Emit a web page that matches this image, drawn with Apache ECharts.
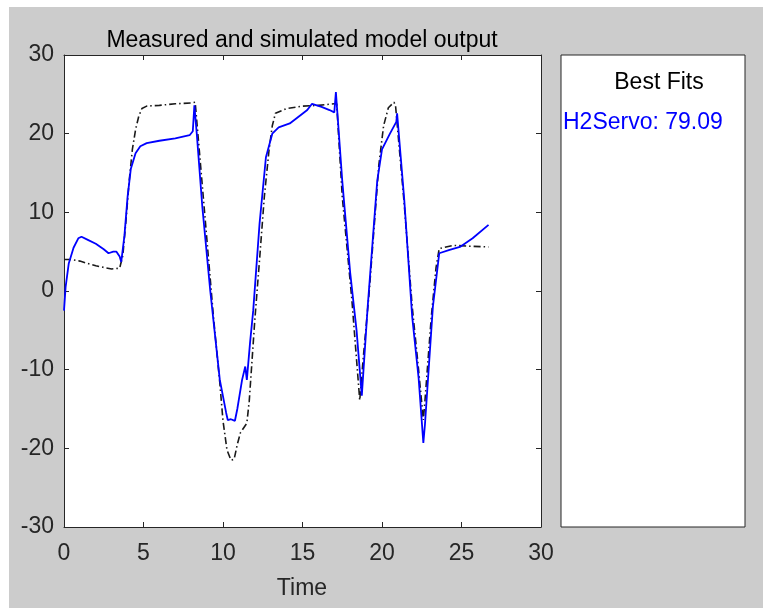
<!DOCTYPE html>
<html>
<head>
<meta charset="utf-8">
<script src="https://cdn.jsdelivr.net/npm/echarts@6/dist/echarts.min.js"></script>
<style>
html,body{margin:0;padding:0;background:#fff;}
#c{width:763px;height:608px;}
</style>
</head>
<body>
<div id="c"></div>
<script>
// Measured output (black dash-dot)
var measTime = [0,0.5,1.0,1.5,2.0,2.5,3.0,3.5,3.7,3.9,4.1,4.3,4.5,4.7,4.9,5.2,6,7,8,8.25,8.8,9.4,9.8,10.0,10.25,10.5,10.7,10.9,11.1,11.5,11.65,11.8,12.0,12.3,12.6,12.9,13.1,13.3,14.0,15,16,17.0,17.15,17.5,18.1,18.6,18.8,19.2,19.5,19.8,20.1,20.4,20.75,20.85,21.4,21.9,22.3,22.6,22.7,23.1,23.4,23.6,24.5,25.5,26.7];
var measValue = [4.0,4.0,3.8,3.5,3.2,3.0,2.8,2.9,4.5,9,14,18,20.5,22.2,23.2,23.5,23.6,23.8,23.9,24.0,11,-3.3,-11.7,-16.5,-20.2,-21.5,-21.4,-19.5,-18,-16.8,-14,-9.6,-3.7,4,12,18,21,22.6,23.2,23.5,23.6,23.8,23.8,12,-1,-13.9,-9,0,8,16,21,23.3,24,23.6,11,-2,-10,-16.4,-14,-3.3,3,5.4,5.8,5.7,5.6];
// Simulated model output H2Servo (blue)
var simTime = [0,0.1,0.3,0.6,0.9,1.1,1.5,2.0,2.5,2.8,3.1,3.3,3.5,3.6,3.8,4.0,4.2,4.5,4.8,5.2,6,7,7.9,8.1,8.2,8.35,8.7,9.2,9.8,10.2,10.3,10.5,10.75,10.9,11.2,11.4,11.5,11.7,11.9,12.3,12.7,13.1,13.5,14.2,15.3,15.6,16.2,16.7,17.0,17.1,17.5,18.0,18.4,18.73,19.1,19.4,19.7,20.0,20.5,20.9,20.95,21.4,21.9,22.3,22.6,22.7,23.2,23.6,24.2,24.9,25.7,26.7];
var simValue = [-2.5,0.5,3.5,5.5,6.7,6.9,6.5,6.0,5.3,4.8,5.0,5.0,4.4,3.7,7,12,15.5,17.5,18.4,18.8,19.1,19.4,19.8,20.3,23.6,20,10.7,0,-11.3,-15.5,-16.4,-16.3,-16.5,-15,-11.3,-9.6,-11.3,-6.6,-2.5,8.6,17,20,20.8,21.3,23,23.8,23.4,23,22.7,25.3,14,2.3,-5,-13.3,-2,6,14,18,20,21.5,22.6,11.6,-3.3,-11,-19.3,-17,-2,4.8,5.2,5.6,6.7,8.4];
var xTicks = [0,5,10,15,20,25,30];
var yTicks = [-30,-20,-10,0,10,20,30];
var titleText = 'Measured and simulated model output';
var xName = 'Time';
var legendTitle = 'Best Fits';
var fitText = 'H2Servo: 79.09';

function pairs(t, v){ return t.map(function(x,i){ return [x, v[i]]; }); }

var FONT = 'Liberation Sans';
var FS = 23;
var chart = echarts.init(document.getElementById('c'), null, {renderer:'canvas'});
var axisLine = {show:true, onZero:false, lineStyle:{color:'#262626', width:1}};
var tickStyle = {show:true, inside:true, length:5, lineStyle:{color:'#262626', width:1}};
chart.setOption({
  backgroundColor:'#ffffff',
  animation:false,
  graphic:[
    {type:'rect', z:-10, shape:{x:9, y:7, width:754, height:601}, style:{fill:'#cccccc'}},
    {type:'rect', z:-5, shape:{x:561, y:55, width:184, height:472}, style:{fill:'#ffffff', stroke:'#262626', lineWidth:1}},
    {type:'text', z:10, style:{text:legendTitle, x:659, y:83, align:'center', verticalAlign:'middle', font:FS+'px "Liberation Sans"', fill:'#000000'}},
    {type:'text', z:10, style:{text:fitText, x:563, y:123, align:'left', verticalAlign:'middle', font:FS+'px "Liberation Sans"', fill:'#0000ff'}},
    {type:'text', z:10, style:{text:titleText, x:302, y:41, align:'center', verticalAlign:'middle', font:FS+'px "Liberation Sans"', fill:'#000000'}},
    {type:'text', z:10, style:{text:xName, x:302, y:589, align:'center', verticalAlign:'middle', font:FS+'px "Liberation Sans"', fill:'#262626'}}
  ],
  grid:{left:64, top:55, width:477, height:472, show:true, backgroundColor:'#ffffff', borderWidth:0},
  xAxis:[
    {type:'value', min:0, max:30, interval:5, position:'bottom',
     axisLine:axisLine, axisTick:tickStyle, splitLine:{show:false},
     axisLabel:{color:'#262626', fontSize:FS, fontFamily:FONT, margin:15,
       formatter:function(v){ return xTicks.indexOf(v)>=0 ? String(v) : ''; }}},
    {type:'value', min:0, max:30, interval:5, position:'top',
     axisLine:axisLine, axisTick:tickStyle, splitLine:{show:false}, axisLabel:{show:false}}
  ],
  yAxis:[
    {type:'value', min:-30, max:30, interval:10, position:'left',
     axisLine:axisLine, axisTick:tickStyle, splitLine:{show:false},
     axisLabel:{color:'#262626', fontSize:FS, fontFamily:FONT, margin:10,
       formatter:function(v){ return yTicks.indexOf(v)>=0 ? String(v) : ''; }}},
    {type:'value', min:-30, max:30, interval:10, position:'right',
     axisLine:axisLine, axisTick:tickStyle, splitLine:{show:false}, axisLabel:{show:false}}
  ],
  series:[
    {type:'line', name:'Measured', data:pairs(measTime, measValue), showSymbol:false, symbol:'none',
     lineStyle:{color:'#1a1a1a', width:1.6, type:[7,3,1.5,3]}, z:3},
    {type:'line', name:'H2Servo', data:pairs(simTime, simValue), showSymbol:false, symbol:'none',
     lineStyle:{color:'#0000ff', width:1.8}, z:4}
  ]
});
</script>
</body>
</html>
